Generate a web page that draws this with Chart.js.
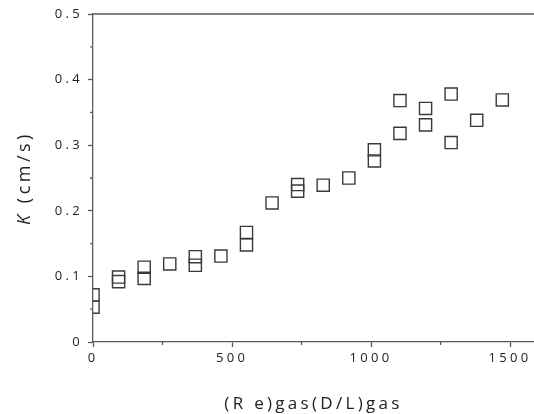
<!DOCTYPE html>
<html>
<head>
<meta charset="utf-8">
<script src="https://cdn.jsdelivr.net/npm/chart.js@4.4.1/dist/chart.umd.min.js"></script>
<style>
  html, body { margin: 0; padding: 0; background: #ffffff; overflow: hidden; }
  canvas { display: block; }
</style>
</head>
<body>
<canvas id="c" width="534" height="414"></canvas>
<script>
// Data
const reGasValues = [0, 0, 92, 92, 184, 184, 276, 368, 368, 460, 552, 552, 644, 736, 736, 828, 920, 1012, 1012, 1104, 1104, 1196, 1196, 1288, 1288, 1380, 1472];
const kValues     = [0.072, 0.053, 0.099, 0.092, 0.114, 0.097, 0.119, 0.130, 0.117, 0.131, 0.167, 0.148, 0.212, 0.240, 0.230, 0.239, 0.250, 0.293, 0.276, 0.368, 0.318, 0.356, 0.331, 0.378, 0.304, 0.338, 0.369];
const xMajorTicks = [0, 500, 1000, 1500];
const xMinorTicks = [250, 750, 1250];
const yMajorTicks = [0, 0.1, 0.2, 0.3, 0.4, 0.5];
const yMinorTicks = [0.05, 0.15, 0.25, 0.35, 0.45];
const xTitle = '(R e)gas(D/L)gas';
const yTitleItalic = 'K';
const yTitleRest = ' (cm/s)';

const points = reGasValues.map((x, i) => ({ x: x, y: kValues[i] }));

const AXIS_COLOR = '#5a5a5a';
const TEXT_COLOR = '#222222';
const FONT = "'Open Sans'";
const SPACING = '3.3px';

const spacingPlugin = {
  id: 'spacing',
  beforeUpdate(chart) { chart.ctx.letterSpacing = SPACING; },
  beforeLayout(chart) { chart.ctx.letterSpacing = SPACING; },
  beforeDraw(chart) { chart.ctx.letterSpacing = SPACING; }
};

const decoPlugin = {
  id: 'deco',
  afterDraw(chart) {
    const ctx = chart.ctx;
    const xs = chart.scales.x, ys = chart.scales.y;
    const a = chart.chartArea;
    ctx.save();
    ctx.strokeStyle = AXIS_COLOR;
    ctx.lineWidth = 1.3;
    // top frame line
    ctx.beginPath();
    ctx.moveTo(a.left, a.top);
    ctx.lineTo(chart.width, a.top);
    ctx.stroke();
    // minor ticks
    ctx.beginPath();
    xMinorTicks.forEach(v => {
      const px = xs.getPixelForValue(v);
      ctx.moveTo(px, a.bottom);
      ctx.lineTo(px, a.bottom + 3);
    });
    yMinorTicks.forEach(v => {
      const py = ys.getPixelForValue(v);
      ctx.moveTo(a.left, py);
      ctx.lineTo(a.left - 3, py);
    });
    ctx.stroke();
    // y title with italic K
    ctx.letterSpacing = '3.5px';
    ctx.fillStyle = TEXT_COLOR;
    ctx.translate(25, 178);
    ctx.rotate(-Math.PI / 2);
    ctx.textBaseline = 'middle';
    ctx.font = "italic 18px " + FONT;
    const w1 = ctx.measureText(yTitleItalic).width;
    ctx.font = "18px " + FONT;
    const w2 = ctx.measureText(yTitleRest).width;
    let start = -(w1 + w2) / 2;
    ctx.textAlign = 'left';
    ctx.font = "italic 18px " + FONT;
    ctx.fillText(yTitleItalic, start, 0);
    ctx.font = "18px " + FONT;
    ctx.fillText(yTitleRest, start + w1, 0);
    ctx.restore();
  }
};

new Chart(document.getElementById('c'), {
  type: 'scatter',
  data: {
    datasets: [{
      data: points,
      pointStyle: 'rect',
      pointRadius: 8.6,
      pointHoverRadius: 8.6,
      borderColor: '#3a3a3a',
      borderWidth: 1.4,
      backgroundColor: 'rgba(0,0,0,0)',
      clip: 0
    }]
  },
  options: {
    responsive: false,
    animation: false,
    devicePixelRatio: 1,
    events: [],
    layout: { autoPadding: false, padding: { top: 14, left: 0, right: 0, bottom: 0 } },
    plugins: { legend: { display: false }, tooltip: { enabled: false } },
    scales: {
      x: {
        type: 'linear',
        min: 0,
        max: 1586,
        afterBuildTicks(scale) { scale.ticks = xMajorTicks.map(v => ({ value: v })); },
        afterFit(scale) { scale.height = 72; scale.paddingRight = 0; scale.paddingLeft = 0; },
        border: { display: true, color: AXIS_COLOR, width: 1.3 },
        grid: { display: true, drawOnChartArea: false, drawTicks: true, tickLength: 5, tickColor: AXIS_COLOR, tickWidth: 1.3 },
        ticks: { color: TEXT_COLOR, font: { family: FONT, size: 13 }, padding: 3, maxRotation: 0, autoSkip: false,
          callback: (v) => String(v) },
        title: { display: true, text: xTitle, color: TEXT_COLOR, font: { family: FONT, size: 17 }, padding: { top: 5, bottom: 0 } }
      },
      y: {
        type: 'linear',
        min: 0,
        max: 0.5,
        afterBuildTicks(scale) { scale.ticks = yMajorTicks.map(v => ({ value: v })); },
        afterFit(scale) { scale.width = 93; scale.paddingTop = 0; scale.paddingBottom = 0; },
        border: { display: true, color: AXIS_COLOR, width: 1.3 },
        grid: { display: true, drawOnChartArea: false, drawTicks: true, tickLength: 5, tickColor: AXIS_COLOR, tickWidth: 1.3 },
        ticks: { color: TEXT_COLOR, font: { family: FONT, size: 13 }, padding: 5,
          callback: (v) => (Math.round(v * 10) / 10).toString() }
      }
    }
  },
  plugins: [spacingPlugin, decoPlugin]
});
</script>
</body>
</html>
